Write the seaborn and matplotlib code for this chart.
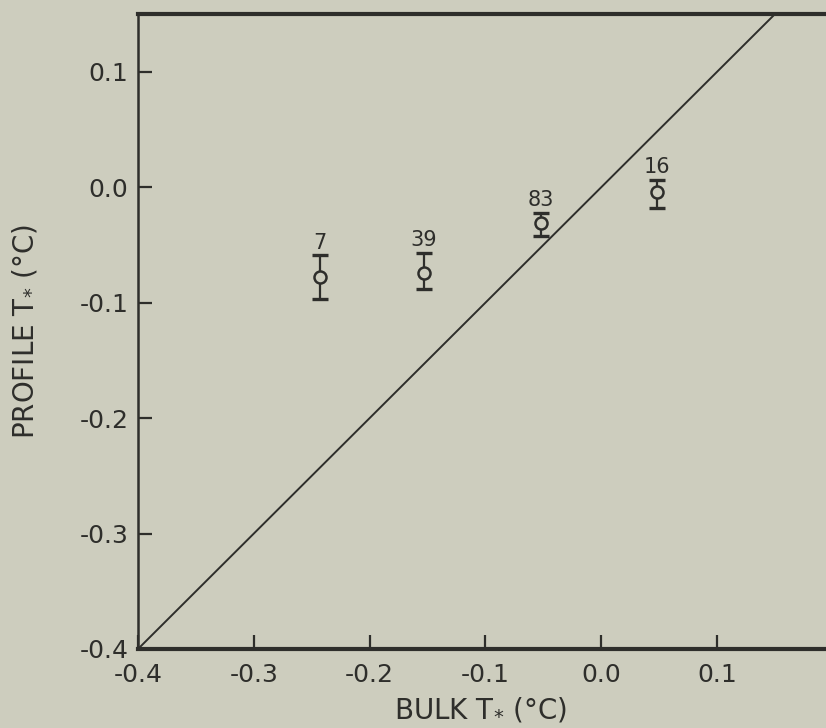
import matplotlib
matplotlib.use("Agg")
import matplotlib.pyplot as plt
import seaborn as sns
import pandas as pd
import numpy as np

# Data
bulk = [-0.243, -0.153, -0.052, 0.048]
profile = [-0.078, -0.074, -0.031, -0.004]
err_low = [-0.097, -0.088, -0.042, -0.018]
err_high = [-0.059, -0.057, -0.022, 0.006]
counts = ["7", "39", "83", "16"]
x_ticks = [-0.4, -0.3, -0.2, -0.1, 0.0, 0.1]
y_ticks = [-0.4, -0.3, -0.2, -0.1, 0.0, 0.1]

bg = "#cdcdbe"
ink = "#2e2e2b"

sns.set_theme(style="ticks")
plt.rcParams['font.family'] = ['DejaVu Sans']
plt.rcParams['mathtext.fontset'] = 'dejavusans'

fig = plt.figure(figsize=(8.26, 7.28), dpi=100, facecolor=bg)
ax = fig.add_axes([138/826, 1 - 649/728, 1 - 138/826, (649 - 14)/728])
ax.set_facecolor(bg)

df = pd.DataFrame({"bulk": bulk, "profile": profile})

# 1:1 line
ax.plot([-0.4, 0.2], [-0.4, 0.2], color=ink, lw=1.4, zorder=1)

yerr = [np.array(profile) - np.array(err_low), np.array(err_high) - np.array(profile)]
ax.errorbar(bulk, profile, yerr=yerr, fmt='none', ecolor=ink, elinewidth=1.6,
            capsize=5.5, capthick=2.4, zorder=2)
sns.scatterplot(data=df, x="bulk", y="profile", ax=ax, marker='o', s=75,
                facecolor=bg, edgecolor=ink, linewidth=1.8, zorder=3)

for xv, hv, lab in zip(bulk, err_high, counts):
    ax.annotate(lab, (xv, hv), xytext=(0, 2), textcoords='offset points',
                ha='center', va='bottom', fontsize=15, color=ink)

ax.set_xlim(-0.4, 0.194)
ax.set_ylim(-0.4, 0.15)
ax.set_xticks(x_ticks)
ax.set_yticks(y_ticks)
ax.set_xticklabels([f"{v:.1f}" for v in x_ticks])
ax.set_yticklabels([f"{v:.1f}" for v in y_ticks])
ax.tick_params(axis='both', direction='in', length=10, width=1.6, colors=ink,
               labelsize=18, labelcolor=ink)
ax.tick_params(axis='x', pad=10)
ax.tick_params(axis='y', pad=7)

for side in ['left', 'bottom', 'top']:
    ax.spines[side].set_color(ink)
ax.spines['left'].set_linewidth(1.8)
ax.spines['bottom'].set_linewidth(3)
ax.spines['top'].set_linewidth(3)
ax.spines['right'].set_visible(False)

ax.set_xlabel("BULK T$_{*}$ (°C)", fontsize=20, color=ink)
ax.set_ylabel("PROFILE T$_{*}$ (°C)", fontsize=20, color=ink)
ax.xaxis.set_label_coords((480 - 138) / 688, -(710 - 649) / 635)
ax.yaxis.set_label_coords(-(138 - 25) / 688, 0.5)
ax.xaxis.label.set_va('center')
ax.yaxis.label.set_va('center')

fig.savefig("out.png", dpi=100, facecolor=bg)
